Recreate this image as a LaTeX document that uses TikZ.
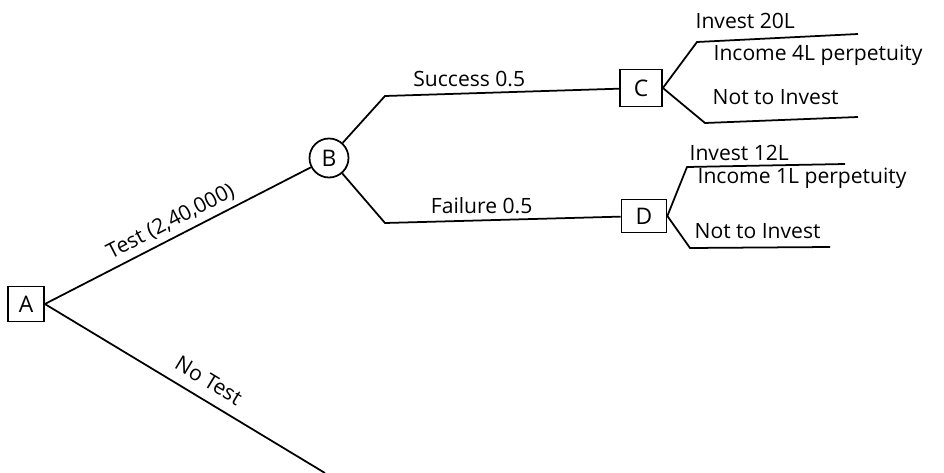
\documentclass[tikz,border=0pt]{standalone}
\usepackage{fontspec}
\setmainfont{Open Sans}
\begin{document}
\begin{tikzpicture}[x=0.02cm,y=-0.02cm,line width=1pt,
    box/.style={draw,minimum width=0.84cm,minimum height=0.74cm,inner sep=0pt,font=\fontsize{13}{15}\selectfont},
    chance/.style={draw,circle,minimum size=0.78cm,inner sep=0pt,font=\fontsize{13}{15}\selectfont},
    lbl/.style={font=\fontsize{12}{14}\selectfont,inner sep=3pt}]
\useasboundingbox (0,0) rectangle (944,473);
% decision and chance nodes
\node[box,minimum width=0.72cm,minimum height=0.7cm] (A) at (26,304) {A};
\node[chance] (B) at (329,158) {B};
\node[box] (C) at (641,88) {C};
\node[box,minimum width=0.9cm,minimum height=0.66cm] (D) at (644,216) {D};
% bends and free ends
\coordinate (s1) at (385,96);
\coordinate (f1) at (385,223);
\coordinate (nt) at (325,473);
\coordinate (c1) at (697,42);  \coordinate (c1e) at (858,34);
\coordinate (c2) at (705,123); \coordinate (c2e) at (858,117);
\coordinate (d1) at (687,167); \coordinate (d1e) at (845,164);
\coordinate (d2) at (690,248); \coordinate (d2e) at (830,247);
% branches
\draw (A.east) -- node[lbl,sloped,above,pos=0.5] {Test (2,40,000)} (B);
\draw (A.east) -- node[lbl,sloped,above,pos=0.55,inner sep=6pt] {No Test} (nt);
\draw (B) -- (s1) -- node[lbl,above,pos=0.36] {Success 0.5} (C);
\draw (B) -- (f1) -- node[lbl,above,pos=0.41] {Failure 0.5} (D);
\draw (C.east) -- (c1) -- (c1e);
\draw (C.east) -- (c2) -- (c2e);
\draw (D.east) -- (d1) -- (d1e);
\draw (D.east) -- (d2) -- (d2e);
% end labels
\node[lbl,anchor=west,inner sep=1pt] (i20) at (693,21) {Invest 20L};
\node[lbl,anchor=west,inner sep=1pt] (inc4) at (711,55) {Income 4L perpetuity};
\node[lbl,anchor=west,inner sep=1pt] (nc) at (710,97) {Not to Invest};
\node[lbl,anchor=west,inner sep=1pt] (i12) at (687,153) {Invest 12L};
\node[lbl,anchor=west,inner sep=1pt] (inc1) at (695,178) {Income 1L perpetuity};
\node[lbl,anchor=west,inner sep=1pt] (nd) at (692,231) {Not to Invest};
\end{tikzpicture}
\end{document}
